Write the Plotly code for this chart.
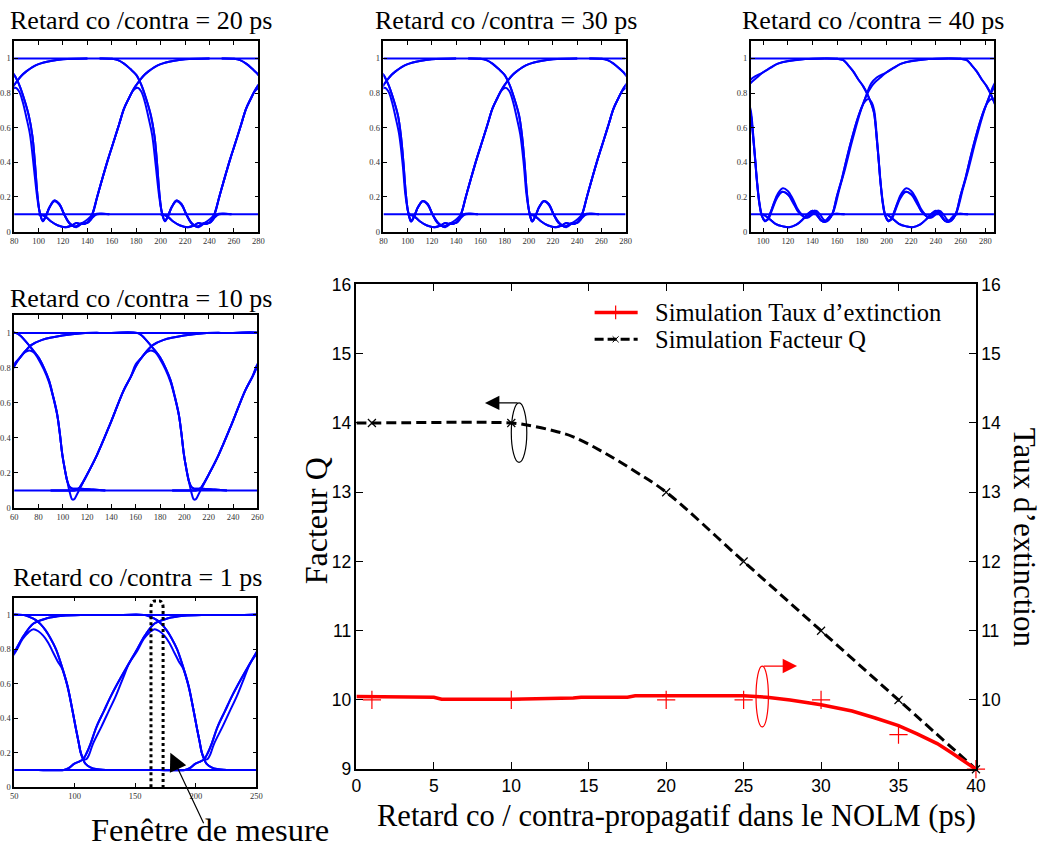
import plotly.graph_objects as go

# layout is specified in target-image pixels and mapped onto the page
# (page viewport scale + 8px body margin)
S_X, S_Y, PAD = 1060 / 1044, 868 / 850, 8
W, H = 1052, 860
FS = 1.0  # font scale

# ---------------- main chart: Q factor / extinction ratio vs delay ----------------
Q_CURVE_X = [0, 1, 10, 11, 12.5, 14, 16, 18, 20, 25, 30, 35, 40]
Q_CURVE_Y = [14, 14, 14, 13.97, 13.9, 13.8, 13.57, 13.3, 13.0, 12.0, 11.0, 10.0, 9.0]
Q_POINTS_X = [1, 10, 20, 25, 30, 35, 40]
Q_POINTS_Y = [14, 14, 13, 12, 11, 10, 9]

ER_CURVE_X = [0, 1, 5, 5.5, 10, 14, 14.5, 17.5, 18, 24.5, 25, 26.5, 28, 30, 32, 33.5, 35, 36.2, 37.5, 38.4, 40]
ER_CURVE_Y = [10.05, 10.05, 10.04, 10.01, 10.01, 10.03, 10.04, 10.04, 10.06, 10.06, 10.06, 10.04, 10.0, 9.93,
              9.84, 9.74, 9.63, 9.51, 9.37, 9.24, 9.0]
ER_POINTS_X = [1, 10, 20, 25, 30, 35, 40]
ER_POINTS_Y = [10, 10, 10, 10, 10, 9.5, 9.0]

LEFT_TICKS = [9, 10, 11, 12, 13, 14, 15, 16]
RIGHT_TICKS = [10, 11, 12, 13, 14, 15, 16]
LEGEND_LABELS = ["Simulation Taux d’extinction", "Simulation Facteur Q"]

# ---------------- eye diagrams (one bit period each, overlaid) ----------------
BIT_PERIOD = 100
SHIFTS = [-2, -1, 0, 1]
LEVELS = [1.0, 0.1]
EYE_YTICKS = [0, 0.2, 0.4, 0.6, 0.8, 1]
EYE_YLABELS = ["0", "0.2", "0.4", "0.6", "0.8", "1"]

# 20 ps
P20_FALL_X = [150, 160, 165, 170, 175, 180, 184, 188, 192, 195, 197, 199, 201, 203.5, 206, 209, 213, 217, 221, 225,
              229, 232, 236, 240, 243, 246, 258]
P20_FALL_Y = [1.0, 0.998, 0.99, 0.97, 0.94, 0.905, 0.85, 0.77, 0.67, 0.55, 0.4, 0.22, 0.11, 0.06, 0.09, 0.14, 0.18,
              0.16, 0.1, 0.05, 0.03, 0.035, 0.05, 0.05, 0.07, 0.1, 0.1]
P20_ISO0_X = [150, 160, 165, 170, 175, 180, 184, 188, 192, 195, 197, 199, 201, 203.5, 206, 209, 213, 217, 221, 226,
              231, 236, 240, 244, 248, 252, 257, 262, 266, 270, 274, 278, 282, 286, 290, 295, 300, 310, 320, 340]
P20_ISO0_Y = [1.0, 0.998, 0.99, 0.97, 0.94, 0.905, 0.85, 0.77, 0.67, 0.55, 0.4, 0.22, 0.11, 0.06, 0.09, 0.14, 0.18,
              0.16, 0.1, 0.045, 0.025, 0.05, 0.07, 0.1, 0.2, 0.3, 0.42, 0.53, 0.62, 0.71, 0.77, 0.825, 0.865, 0.9,
              0.925, 0.95, 0.967, 0.985, 0.995, 1.0]
P20_RISE_X = [100, 105, 110, 116, 122, 127, 131, 134, 138, 141, 144, 148, 152, 157, 162, 166, 170, 174, 178, 182,
              186, 190, 195, 200, 210, 220, 240]
P20_RISE_Y = [0.1, 0.09, 0.06, 0.035, 0.025, 0.035, 0.05, 0.045, 0.045, 0.06, 0.1, 0.2, 0.3, 0.42, 0.53, 0.62, 0.71,
              0.77, 0.825, 0.865, 0.9, 0.925, 0.95, 0.967, 0.985, 0.995, 1.0]
P20_ISO1_X = [100, 105, 110, 116, 122, 127, 131, 134, 138, 141, 144, 148, 152, 157, 162, 166, 170, 174, 177, 181,
              184, 187, 190, 193, 196, 198.5, 201, 203.5, 206, 209, 213, 217, 221, 225, 230, 236, 240, 244, 248, 258]
P20_ISO1_Y = [0.1, 0.09, 0.06, 0.035, 0.025, 0.035, 0.05, 0.045, 0.045, 0.06, 0.1, 0.2, 0.3, 0.42, 0.53, 0.62, 0.71,
              0.77, 0.81, 0.83, 0.81, 0.75, 0.66, 0.56, 0.38, 0.22, 0.11, 0.065, 0.09, 0.14, 0.175, 0.155, 0.1, 0.05,
              0.03, 0.05, 0.05, 0.08, 0.1, 0.1]

# 30 ps
P30_FALL_X = [150, 160, 165, 170, 175, 180, 184, 188, 192, 194.5, 196.5, 198.5, 200.5, 202.8, 205.5, 208.5, 212.5,
              216.5, 220.5, 224.5, 229, 232, 236, 240, 243, 246, 258]
P30_FALL_Y = [1.0, 0.998, 0.99, 0.97, 0.94, 0.905, 0.85, 0.77, 0.67, 0.55, 0.4, 0.22, 0.11, 0.058, 0.09, 0.14, 0.177,
              0.16, 0.1, 0.05, 0.03, 0.035, 0.05, 0.05, 0.07, 0.1, 0.1]
P30_ISO0_X = [150, 160, 165, 170, 175, 180, 184, 188, 192, 194.5, 196.5, 198.5, 200.5, 202.8, 205.5, 208.5, 212.5,
              216.5, 220.5, 226, 231, 236, 240, 244, 248, 252, 257, 262, 266, 270, 274, 278, 282, 286, 290, 295, 300,
              310, 320, 340]
P30_ISO0_Y = [1.0, 0.998, 0.99, 0.97, 0.94, 0.905, 0.85, 0.77, 0.67, 0.55, 0.4, 0.22, 0.11, 0.058, 0.09, 0.14, 0.177,
              0.16, 0.1, 0.045, 0.025, 0.05, 0.07, 0.1, 0.2, 0.3, 0.42, 0.53, 0.62, 0.71, 0.77, 0.825, 0.865, 0.9,
              0.925, 0.95, 0.967, 0.985, 0.995, 1.0]
P30_RISE_X = [100, 105, 110, 116, 122, 127, 131, 134, 138, 141, 144, 148, 152, 157, 162, 166, 170, 174, 178, 182,
              186, 190, 195, 200, 210, 220, 240]
P30_RISE_Y = [0.1, 0.09, 0.06, 0.035, 0.025, 0.035, 0.05, 0.045, 0.045, 0.06, 0.1, 0.2, 0.3, 0.42, 0.53, 0.62, 0.71,
              0.77, 0.825, 0.865, 0.9, 0.925, 0.95, 0.967, 0.985, 0.995, 1.0]
P30_ISO1_X = [100, 105, 110, 116, 122, 127, 131, 134, 138, 141, 144, 148, 152, 157, 162, 166, 170, 174, 177, 181,
              184, 187, 190, 193, 196, 198, 200.5, 203, 205.5, 208.5, 212.5, 216.5, 220.5, 225, 230, 236, 240, 244,
              248, 258]
P30_ISO1_Y = [0.1, 0.09, 0.06, 0.035, 0.025, 0.035, 0.05, 0.045, 0.045, 0.06, 0.1, 0.2, 0.3, 0.42, 0.53, 0.62, 0.71,
              0.77, 0.81, 0.83, 0.81, 0.75, 0.66, 0.56, 0.38, 0.22, 0.11, 0.065, 0.09, 0.14, 0.175, 0.155, 0.1, 0.05,
              0.03, 0.05, 0.05, 0.08, 0.1, 0.1]

# 40 ps
P40_FALL_X = [150, 160, 165, 169, 173, 177, 181, 184, 187, 189, 190, 191, 192, 193.5, 195, 197, 199, 201.5, 203.5,
              206, 209, 212, 216, 220, 224, 228, 231, 234, 237, 240, 242, 244, 247, 250, 253, 256, 266]
P40_FALL_Y = [1.0, 0.998, 0.99, 0.96, 0.925, 0.88, 0.84, 0.8, 0.75, 0.71, 0.68, 0.62, 0.54, 0.42, 0.29, 0.16, 0.09,
              0.06, 0.07, 0.11, 0.17, 0.22, 0.25, 0.235, 0.19, 0.13, 0.1, 0.08, 0.09, 0.115, 0.12, 0.1, 0.065, 0.06,
              0.08, 0.1, 0.1]
P40_ISO0_X = [150, 160, 165, 169, 173, 177, 181, 184, 187, 189, 190, 191, 192, 193.5, 195, 197, 199, 201.5, 203.5,
              206, 209, 212, 216, 220, 224, 228, 232, 236, 240, 243, 246, 249, 252, 254.5, 257, 262, 266.5, 272,
              278.7, 282.7, 287.6, 292, 300, 312, 334, 350]
P40_ISO0_Y = [1.0, 0.998, 0.99, 0.96, 0.925, 0.88, 0.84, 0.8, 0.75, 0.71, 0.68, 0.62, 0.54, 0.42, 0.29, 0.16, 0.09,
              0.06, 0.07, 0.11, 0.165, 0.21, 0.23, 0.215, 0.17, 0.12, 0.09, 0.08, 0.1, 0.12, 0.1, 0.07, 0.06, 0.08,
              0.115, 0.25, 0.365, 0.52, 0.69, 0.77, 0.856, 0.89, 0.92, 0.97, 0.996, 1.0]
P40_RISE_X = [100, 104, 110, 116, 121, 127, 132, 136, 140, 143, 147, 150, 153, 156, 160, 164, 168, 172, 176, 180,
              184, 188, 191, 195, 200, 206, 212, 220, 234, 250]
P40_RISE_Y = [0.1, 0.08, 0.045, 0.03, 0.025, 0.04, 0.07, 0.1, 0.12, 0.1, 0.065, 0.055, 0.07, 0.1, 0.21, 0.31, 0.43,
              0.54, 0.64, 0.72, 0.79, 0.84, 0.865, 0.89, 0.92, 0.945, 0.97, 0.985, 0.996, 1.0]
P40_ISO1_X = [100, 104, 110, 116, 121, 127, 132, 136, 140, 143, 147, 150, 153, 156, 160, 164, 168, 172, 176, 180,
              183, 185.5, 188, 190, 192, 193.5, 195, 197, 199, 201.5, 204, 207, 211, 215.5, 220, 224, 228, 231, 234,
              237, 240, 242, 244, 247, 250, 253, 256, 266]
P40_ISO1_Y = [0.1, 0.08, 0.045, 0.03, 0.025, 0.04, 0.07, 0.1, 0.12, 0.1, 0.065, 0.055, 0.07, 0.1, 0.21, 0.31, 0.43,
              0.54, 0.64, 0.72, 0.755, 0.765, 0.745, 0.7, 0.56, 0.43, 0.3, 0.17, 0.095, 0.065, 0.07, 0.12, 0.19, 0.23,
              0.215, 0.18, 0.12, 0.1, 0.08, 0.09, 0.115, 0.12, 0.1, 0.065, 0.06, 0.08, 0.1, 0.1]

# 10 ps
P10_FALL_X = [140, 161, 165, 169, 174.5, 180, 184.5, 188.6, 192, 195.4, 197.5, 199.6, 201.7, 203.7, 205.7, 208, 215,
              225, 235]
P10_FALL_Y = [1.0, 1.0, 0.985, 0.956, 0.91, 0.86, 0.8, 0.73, 0.64, 0.535, 0.43, 0.306, 0.22, 0.153, 0.12, 0.11, 0.11,
              0.105, 0.1]
P10_ISO0_X = [140, 161, 165, 169, 174.5, 180, 184.5, 188.6, 192, 195.4, 197.5, 199.6, 201.7, 203.7, 205.7, 207.8,
              209.5, 211.5, 214.4, 217, 220, 228, 239, 250, 256, 261, 265, 269, 274, 283, 299.6, 316, 330]
P10_ISO0_Y = [1.0, 1.0, 0.985, 0.956, 0.91, 0.86, 0.8, 0.73, 0.64, 0.535, 0.43, 0.306, 0.22, 0.153, 0.09, 0.048, 0.05,
              0.075, 0.115, 0.15, 0.19, 0.3, 0.48, 0.67, 0.75, 0.82, 0.86, 0.895, 0.93, 0.96, 0.985, 0.998, 1.0]
P10_RISE_X = [90, 105, 110, 113, 116, 120, 128, 139, 150, 156, 160, 165, 169, 174, 183, 199.6, 216, 230]
P10_RISE_Y = [0.1, 0.1, 0.1, 0.11, 0.14, 0.19, 0.3, 0.48, 0.67, 0.75, 0.82, 0.86, 0.895, 0.93, 0.96, 0.985, 0.998,
              1.0]
P10_ISO1_X = [90, 105, 110, 113, 116, 120, 128, 139, 150, 156, 160, 165, 169, 172.5, 176, 180, 184.5, 188.6, 192,
              195.4, 197.5, 199.6, 201.7, 203.7, 205.7, 208, 215, 225, 235]
P10_ISO1_Y = [0.1, 0.1, 0.1, 0.11, 0.14, 0.19, 0.3, 0.48, 0.67, 0.75, 0.81, 0.86, 0.89, 0.9, 0.89, 0.85, 0.79, 0.72,
              0.635, 0.53, 0.43, 0.306, 0.22, 0.153, 0.12, 0.11, 0.11, 0.105, 0.1]

# 1 ps
P1_FALL_X = [140, 157, 162, 168, 172, 176, 180, 184.6, 189, 194, 197.5, 201, 203, 205, 207, 209, 213, 217.5, 225.8,
             240]
P1_FALL_Y = [1.0, 1.0, 0.99, 0.97, 0.945, 0.91, 0.865, 0.8, 0.71, 0.59, 0.47, 0.34, 0.27, 0.2, 0.16, 0.135, 0.115,
             0.105, 0.1, 0.1]
P1_ISO0_X = [140, 157, 162, 168, 172, 176, 180, 184.6, 189, 194, 197.5, 201, 203, 205, 207, 208.5, 210, 212, 215,
             222, 228, 234, 240, 245, 251.6, 258, 266, 277, 290, 305]
P1_ISO0_Y = [1.0, 1.0, 0.99, 0.97, 0.945, 0.91, 0.865, 0.8, 0.71, 0.59, 0.47, 0.34, 0.27, 0.2, 0.17, 0.16, 0.165,
             0.19, 0.25, 0.35, 0.44, 0.53, 0.635, 0.72, 0.8, 0.88, 0.95, 0.98, 0.995, 1.0]
P1_RISE_X = [70, 91, 95, 99.5, 104, 107, 110, 113, 118, 124, 130, 138, 145, 151.6, 158, 166, 177, 190, 205]
P1_RISE_Y = [0.1, 0.1, 0.11, 0.135, 0.15, 0.163, 0.2, 0.25, 0.35, 0.44, 0.53, 0.635, 0.72, 0.8, 0.88, 0.95, 0.98,
             0.995, 1.0]
P1_ISO1_X = [70, 91, 95, 99.5, 104, 107, 110, 113, 118, 124, 130, 138, 145, 151.6, 157, 162, 166, 170, 174, 178,
             182, 186, 189.5, 194, 197.5, 201, 203, 205, 207, 209, 213, 217.5, 225.8, 240]
P1_ISO1_Y = [0.1, 0.1, 0.11, 0.135, 0.15, 0.163, 0.2, 0.25, 0.35, 0.44, 0.53, 0.635, 0.72, 0.79, 0.86, 0.9, 0.917,
             0.905, 0.88, 0.84, 0.785, 0.73, 0.69, 0.585, 0.47, 0.34, 0.27, 0.2, 0.16, 0.135, 0.115, 0.105, 0.1, 0.1]

# measurement window drawn on the 1 ps eye
WINDOW_X = [163, 173]
WINDOW_TOP = 1.08

SERIF = "Liberation Serif, Times New Roman, serif"
SANS = "Liberation Sans, Arial, Helvetica, sans-serif"
EYE_BLUE = "rgb(0,0,255)"
RED = "rgb(255,0,0)"
Q_DASH = "10px,5px"

# panel boxes in target pixels: left, top, right, bottom
PANELS = [
    dict(n=3, title="Retard co /contra = 20 ps", box=(17, 39, 261, 230), xr=[80, 280], dt=20,
         curves=[(P20_FALL_X, P20_FALL_Y), (P20_ISO0_X, P20_ISO0_Y), (P20_RISE_X, P20_RISE_Y), (P20_ISO1_X, P20_ISO1_Y)],
         tpos=(144, 18)),
    dict(n=4, title="Retard co /contra = 30 ps", box=(386, 39, 628, 230), xr=[80, 280], dt=20,
         curves=[(P30_FALL_X, P30_FALL_Y), (P30_ISO0_X, P30_ISO0_Y), (P30_RISE_X, P30_RISE_Y), (P30_ISO1_X, P30_ISO1_Y)],
         tpos=(508, 18)),
    dict(n=5, title="Retard co /contra = 40 ps", box=(753, 39, 996, 230), xr=[90, 287], dt=20,
         curves=[(P40_FALL_X, P40_FALL_Y), (P40_ISO0_X, P40_ISO0_Y), (P40_RISE_X, P40_RISE_Y), (P40_ISO1_X, P40_ISO1_Y)],
         tpos=(875, 18)),
    dict(n=6, title="Retard co /contra = 10 ps", box=(17, 314, 260, 507), xr=[60, 260], dt=20,
         curves=[(P10_FALL_X, P10_FALL_Y), (P10_ISO0_X, P10_ISO0_Y), (P10_RISE_X, P10_RISE_Y), (P10_ISO1_X, P10_ISO1_Y)],
         tpos=(144, 297)),
    dict(n=7, title="Retard co /contra = 1 ps", box=(17, 597, 259, 787), xr=[50, 250], dt=50,
         curves=[(P1_FALL_X, P1_FALL_Y), (P1_ISO0_X, P1_ISO0_Y), (P1_RISE_X, P1_RISE_Y), (P1_ISO1_X, P1_ISO1_Y)],
         tpos=(140, 577)),
]
MAIN_BOX = (359, 283, 978, 769)


def px(xp):
    return (xp * S_X - PAD) / W


def py(yp):
    return 1 - (yp * S_Y - PAD) / H


def dom_x(box):
    return [px(box[0]), px(box[2])]


def dom_y(box):
    return [py(box[3]), py(box[1])]


fig = go.Figure()
annotations = []
shapes = []

# ---- eye diagram panels ----
for p in PANELS:
    n = str(p["n"])
    xa, ya = "x" + n, "y" + n
    for level in LEVELS:
        fig.add_trace(go.Scatter(x=p["xr"], y=[level, level], mode="lines", xaxis=xa, yaxis=ya,
                                 line=dict(color=EYE_BLUE, width=2), showlegend=False, hoverinfo="skip"))
    for xs, ys in p["curves"]:
        X, Y = [], []
        for k in SHIFTS:
            X += [x + k * BIT_PERIOD for x in xs] + [None]
            Y += list(ys) + [None]
        fig.add_trace(go.Scatter(x=X, y=Y, mode="lines", xaxis=xa, yaxis=ya, line=dict(color=EYE_BLUE, width=2),
                                 line_shape="spline", showlegend=False, hoverinfo="skip"))
    axis_common = dict(showline=True, linecolor="black", linewidth=1.5, mirror="ticks", ticks="inside", ticklen=4,
                       tickcolor="black", showgrid=False, zeroline=False,
                       tickfont=dict(family=SERIF, size=8.5, color="#333"))
    fig.update_layout(**{
        "xaxis" + n: dict(domain=dom_x(p["box"]), anchor=ya, range=p["xr"], dtick=p["dt"], tick0=0, **axis_common),
        "yaxis" + n: dict(domain=dom_y(p["box"]), anchor=xa, range=[0, 1.1], tickvals=EYE_YTICKS,
                          ticktext=EYE_YLABELS, **axis_common),
    })
    annotations.append(dict(text=p["title"], x=px(p["tpos"][0]), y=py(p["tpos"][1]), xref="paper", yref="paper",
                            showarrow=False, font=dict(family=SERIF, size=26, color="black"),
                            xanchor="center", yanchor="middle"))

# measurement window on the 1 ps eye
x0, x1 = WINDOW_X
r = 0.04
shapes.append(dict(type="path", xref="x7", yref="y7",
                   path=f"M {x0},0 L {x0},{WINDOW_TOP - r} Q {x0},{WINDOW_TOP} {x0 + 3},{WINDOW_TOP} "
                        f"L {x1 - 3},{WINDOW_TOP} Q {x1},{WINDOW_TOP} {x1},{WINDOW_TOP - r} L {x1},0",
                   line=dict(color="black", width=3, dash="dot")))
annotations.append(dict(x=179, y=0.2, xref="x7", yref="y7", ax=34, ay=72, text="", showarrow=True,
                        arrowhead=2, arrowsize=3, arrowwidth=1.2, arrowcolor="black"))
annotations.append(dict(text="Fenêtre de mesure", x=px(213), y=py(830), xref="paper", yref="paper",
                        showarrow=False, font=dict(family=SERIF, size=32.5, color="black"),
                        xanchor="center", yanchor="middle"))

# ---- main chart ----
fig.add_trace(go.Scatter(x=ER_CURVE_X, y=ER_CURVE_Y, mode="lines", xaxis="x", yaxis="y2",
                         line=dict(color=RED, width=3.5), showlegend=False, hoverinfo="skip"))
fig.add_trace(go.Scatter(x=ER_POINTS_X, y=ER_POINTS_Y, mode="markers", xaxis="x", yaxis="y2", cliponaxis=False,
                         marker=dict(symbol="cross-thin", size=13, line=dict(color=RED, width=1.2)),
                         showlegend=False))
fig.add_trace(go.Scatter(x=Q_CURVE_X, y=Q_CURVE_Y, mode="lines", xaxis="x", yaxis="y", line_shape="spline",
                         line=dict(color="black", width=3, dash=Q_DASH), showlegend=False, hoverinfo="skip"))
fig.add_trace(go.Scatter(x=Q_POINTS_X, y=Q_POINTS_Y, mode="markers", xaxis="x", yaxis="y", cliponaxis=False,
                         marker=dict(symbol="x-thin", size=8, line=dict(color="black", width=1.2)),
                         showlegend=False))

main_axis = dict(showline=True, linecolor="black", linewidth=1.5, ticks="inside", ticklen=7, tickcolor="black",
                 showgrid=False, zeroline=False, tickfont=dict(family=SANS, size=17.5, color="black"))
fig.update_layout(
    xaxis=dict(domain=dom_x(MAIN_BOX), anchor="y", range=[0, 40], dtick=5, mirror="ticks", **main_axis),
    yaxis=dict(domain=dom_y(MAIN_BOX), anchor="x", range=[9, 16], tickvals=LEFT_TICKS, mirror=True, **main_axis),
    yaxis2=dict(overlaying="y", side="right", anchor="x", range=[9, 16], tickvals=RIGHT_TICKS, **main_axis),
)

# legend block (line samples + labels)
LEG_X0, LEG_X1, LEG_MID, LEG_TEXT = 597, 640, 618, 655
LEG_ROWS = [311, 338]
shapes += [
    dict(type="line", xref="paper", yref="paper", x0=px(LEG_X0), x1=px(LEG_X1), y0=py(LEG_ROWS[0]),
         y1=py(LEG_ROWS[0]), line=dict(color=RED, width=3.5)),
    dict(type="line", xref="paper", yref="paper", x0=px(LEG_MID), x1=px(LEG_MID), y0=py(LEG_ROWS[0] - 7),
         y1=py(LEG_ROWS[0] + 7), line=dict(color=RED, width=1.2)),
    dict(type="line", xref="paper", yref="paper", x0=px(LEG_X0), x1=px(LEG_X1), y0=py(LEG_ROWS[1]),
         y1=py(LEG_ROWS[1]), line=dict(color="black", width=3, dash="9px,4px")),
    dict(type="line", xref="paper", yref="paper", x0=px(LEG_MID - 3), x1=px(LEG_MID + 3), y0=py(LEG_ROWS[1] - 3),
         y1=py(LEG_ROWS[1] + 3), line=dict(color="black", width=1)),
    dict(type="line", xref="paper", yref="paper", x0=px(LEG_MID - 3), x1=px(LEG_MID + 3), y0=py(LEG_ROWS[1] + 3),
         y1=py(LEG_ROWS[1] - 3), line=dict(color="black", width=1)),
]
for label, row in zip(LEGEND_LABELS, LEG_ROWS):
    annotations.append(dict(text=label, x=px(LEG_TEXT), y=py(row), xref="paper", yref="paper", showarrow=False,
                            font=dict(family=SERIF, size=24.5, color="black"), xanchor="left", yanchor="middle"))

# ellipse + arrow markers telling which axis each curve uses
shapes.append(dict(type="circle", xref="x", yref="y", x0=10.0, x1=11.0, y0=13.43, y1=14.29,
                   line=dict(color="black", width=1.2)))
annotations.append(dict(x=8.3, y=14.29, ax=10.5, ay=14.29, xref="x", yref="y", axref="x", ayref="y", text="",
                        showarrow=True, arrowhead=2, arrowsize=2.4, arrowwidth=1.2, arrowcolor="black"))
shapes.append(dict(type="circle", xref="x", yref="y", x0=25.8, x1=26.6, y0=9.61, y1=10.49,
                   line=dict(color=RED, width=1.2)))
annotations.append(dict(x=28.45, y=10.49, ax=26.2, ay=10.49, xref="x", yref="y", axref="x", ayref="y", text="",
                        showarrow=True, arrowhead=2, arrowsize=2.4, arrowwidth=1.2, arrowcolor=RED))

annotations += [
    dict(text="Facteur Q", x=px(318), y=py(520), xref="paper", yref="paper", showarrow=False, textangle=-90,
         font=dict(family=SERIF, size=32, color="black"), xanchor="center", yanchor="middle"),
    dict(text="Taux d’extinction", x=px(1026), y=py(537), xref="paper", yref="paper", showarrow=False,
         textangle=90, font=dict(family=SERIF, size=31, color="black"), xanchor="center", yanchor="middle"),
    dict(text="Retard co / contra-propagatif dans le NOLM (ps)", x=px(679), y=py(816), xref="paper",
         yref="paper", showarrow=False, font=dict(family=SERIF, size=30.5, color="black"),
         xanchor="center", yanchor="middle"),
]

fig.update_layout(
    width=W, height=H, margin=dict(l=0, r=0, t=0, b=0), paper_bgcolor="white", plot_bgcolor="white",
    showlegend=False, annotations=annotations, shapes=shapes,
)

fig.write_html("out.html")
